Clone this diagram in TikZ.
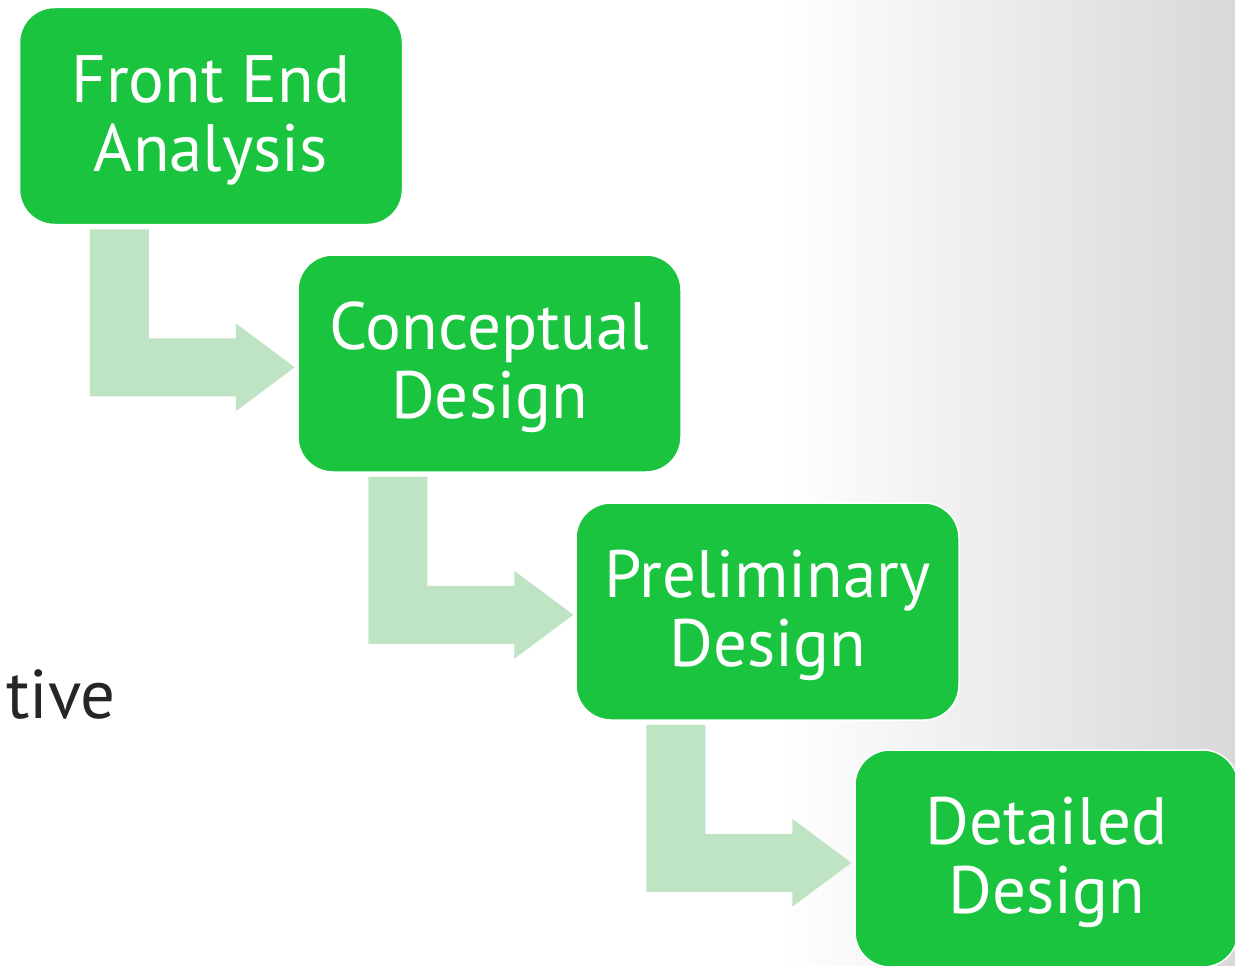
\documentclass[tikz,border=0pt]{standalone}
\usepackage{fontspec}
\setmainfont{PT Sans}
\usetikzlibrary{calc}
\definecolor{boxgreen}{HTML}{1AC43F}
\definecolor{arrowgreen}{HTML}{BEE4C3}
\definecolor{bgright}{HTML}{D8D8D8}
\definecolor{textdark}{HTML}{262626}
\tikzset{
  stagebox/.style={draw=white, line width=1.5pt, fill=boxgreen, rounded corners=35pt,
    minimum width=383pt, minimum height=217pt, inner sep=0pt},
  stagetext/.style={align=center, text=white,
    font=\fontsize{67}{69}\selectfont, inner sep=0pt, yshift=-4pt},
  bentarrow/.style={fill=arrowgreen, draw=none}
}
\newcommand{\bentarr}[1]{%
  \fill[bentarrow] ($(#1.south west)+(71,4)$) -- ($(#1.south west)+(130,4)$)
    -- ($(#1.south west)+(130,113)$) -- ($(#1.south west)+(217,113)$)
    -- ($(#1.south west)+(217,98)$) -- ($(#1.south west)+(276,142)$)
    -- ($(#1.south west)+(217,186)$) -- ($(#1.south west)+(217,171)$)
    -- ($(#1.south west)+(71,171)$) -- cycle;}
\begin{document}
\begin{tikzpicture}[x=1pt,y=-1pt]
\useasboundingbox (0,0) rectangle (1235,966);
\fill[white] (0,0) rectangle (1235,966);
\shade[left color=white, right color=bgright, draw=none] (780,0) rectangle (1235,966);
\node[anchor=base west, text=textdark, font=\fontsize{69}{72}\selectfont, inner sep=0pt] (tive) at (6,718) {tive};
\node[stagebox] (fea) at (211,116) {};
\node[stagebox] (cd) at (489.5,363.5) {};
\node[stagebox] (pd) at (767.5,611.5) {};
\node[stagebox] (dd) at (1046.5,858.5) {};
\node[stagetext] (feat) at (fea.center) {Front End\\Analysis};
\node[stagetext] (cdt) at (cd.center) {Conceptual\\Design};
\node[stagetext] (pdt) at (pd.center) {Preliminary\\Design};
\node[stagetext] (ddt) at (dd.center) {Detailed\\Design};
\bentarr{fea}
\bentarr{cd}
\bentarr{pd}
\end{tikzpicture}
\end{document}
